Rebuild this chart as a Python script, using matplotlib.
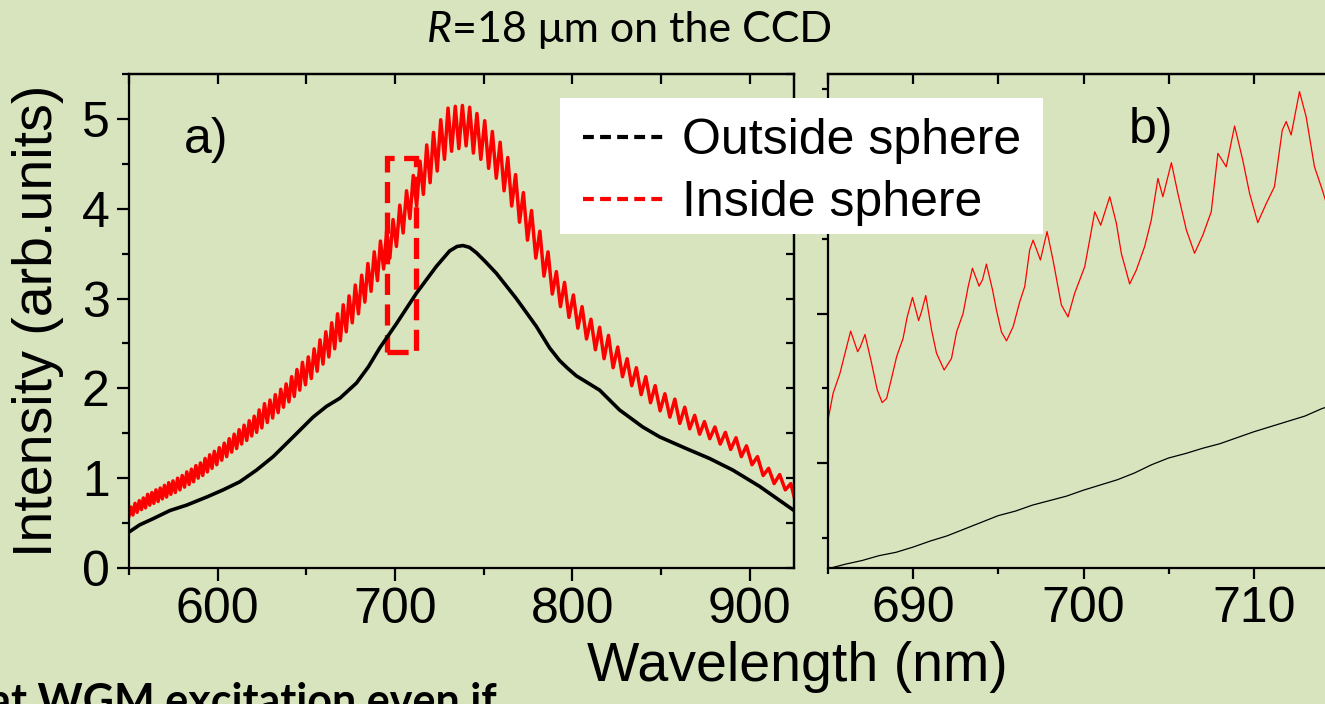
import matplotlib
matplotlib.use('Agg')
import matplotlib.pyplot as plt
from matplotlib.ticker import MultipleLocator, NullFormatter, FixedLocator
from matplotlib.patches import Rectangle
from matplotlib.lines import Line2D

plt.rcParams['font.family'] = ['Liberation Sans', 'DejaVu Sans']

BG = '#d8e4bd'
W, H = 1325, 704

# ---- panel a: full spectra (extrema of the WGM ripple)
red_a_nm = [
    550.0, 551.0, 552.2, 553.4, 554.6, 555.8, 557.0, 558.1, 559.3, 560.5, 561.7, 562.9,
    564.0, 565.2, 566.4, 567.6, 568.8, 570.0, 571.2, 572.4, 573.6, 574.8, 576.1,
    577.4, 578.7, 580.0, 581.3, 582.6, 583.9, 585.2, 586.4, 587.7, 589.0, 590.3, 591.6,
    592.9, 594.2, 595.5, 596.8, 598.1, 599.5,
    600.9, 602.3, 603.7, 605.1, 606.5, 607.9, 609.3, 610.7, 612.1, 613.5, 614.9, 616.4,
    617.8, 619.2, 620.6, 622.0, 623.4, 624.9,
    626.4, 628.0, 629.5, 631.0, 632.5, 634.1, 635.6, 637.1, 638.6, 640.2, 641.7, 643.2,
    644.7, 646.3, 647.8, 649.5,
    651.1, 652.8, 654.4, 656.1, 657.7, 659.4, 661.0, 662.7, 664.3, 666.0, 667.6, 669.2,
    670.8, 672.5, 674.1, 675.9,
    677.6, 679.4, 681.2, 683.0, 684.7, 686.5, 688.3, 690.1, 691.8, 693.6, 695.3, 697.1,
    698.9, 700.8,
    702.7, 704.6, 706.5, 708.4, 710.3, 712.2, 714.1, 716.0, 717.9, 719.8, 721.7, 723.8,
    725.8, 727.9, 729.9, 731.9, 734.0, 736.0, 738.0, 740.1, 742.1, 744.2, 746.2, 748.4,
    750.6, 752.8, 754.9, 757.1, 759.3, 761.5, 763.6, 765.8, 768.0, 770.2, 772.4, 774.7,
    777.0, 779.4, 781.7, 784.0, 786.3, 788.7, 791.0, 793.3, 795.6, 798.1,
    800.6, 803.1, 805.5, 808.0, 810.5, 813.0, 815.4, 817.9, 820.4, 823.0,
    825.6, 828.3, 830.9, 833.5, 836.1, 838.8, 841.4, 844.1, 846.7, 849.5,
    852.2, 855.0, 857.8, 860.6, 863.4, 866.2, 869.0, 871.8, 874.5, 877.5,
    880.4, 883.4, 886.3, 889.3, 892.3, 895.3, 898.2, 901.3,
    904.4, 907.6, 910.7, 913.8, 916.9, 920.1, 923.2, 925.0,
]
red_a_int = [
    0.58, 0.68, 0.59, 0.72, 0.62, 0.75, 0.65, 0.78, 0.67, 0.82, 0.70, 0.84,
    0.72, 0.87, 0.74, 0.89, 0.77, 0.92, 0.79, 0.95, 0.82, 0.97, 0.84,
    1.00, 0.87, 1.03, 0.90, 1.07, 0.93, 1.10, 0.96, 1.14, 1.00, 1.17, 1.03,
    1.22, 1.07, 1.26, 1.11, 1.30, 1.15,
    1.34, 1.20, 1.39, 1.24, 1.44, 1.29, 1.49, 1.33, 1.54, 1.38, 1.59, 1.42,
    1.64, 1.47, 1.69, 1.51, 1.76, 1.56,
    1.83, 1.62, 1.87, 1.67, 1.93, 1.73, 1.99, 1.79, 2.05, 1.85, 2.13, 1.91,
    2.21, 1.98, 2.29, 2.04,
    2.35, 2.11, 2.44, 2.19, 2.54, 2.27, 2.63, 2.35, 2.73, 2.44, 2.83, 2.53,
    2.93, 2.63, 3.03, 2.73,
    3.15, 2.83, 3.26, 2.96, 3.39, 3.08, 3.52, 3.20, 3.64, 3.33, 3.76, 3.45,
    3.88, 3.58,
    4.04, 3.73, 4.20, 3.89, 4.37, 4.03, 4.53, 4.16, 4.71, 4.29, 4.85, 4.42,
    4.99, 4.55, 5.12, 4.64, 5.14, 4.67, 5.15, 4.70, 5.13, 4.62, 5.06, 4.55,
    4.98, 4.45, 4.86, 4.34, 4.74, 4.20, 4.57, 4.03, 4.38, 3.85, 4.18, 3.65,
    3.98, 3.45, 3.75, 3.25, 3.52, 3.05, 3.30, 2.91, 3.18, 2.79,
    3.04, 2.67, 2.91, 2.55, 2.77, 2.43, 2.68, 2.33, 2.59, 2.23,
    2.46, 2.13, 2.33, 2.03, 2.23, 1.93, 2.13, 1.84, 2.03, 1.75,
    1.94, 1.68, 1.88, 1.61, 1.79, 1.55, 1.70, 1.49, 1.63, 1.44,
    1.57, 1.38, 1.51, 1.32, 1.45, 1.24, 1.36, 1.15,
    1.24, 1.03, 1.11, 0.94, 1.04, 0.87, 0.94, 0.80,
]

black_a_nm = [550.0, 556.0, 563.7, 573.1, 582.5, 593.8, 603.1, 612.5, 621.9, 631.3,
              642.6, 653.8, 661.4, 668.9, 678.3, 685.0, 691.4, 700.8, 712.1, 723.4,
              730.8, 735.0, 738.3, 742.0, 745.9, 751.0, 757.2, 768.4, 779.7, 787.2,
              792.8, 797.0, 802.2, 808.0, 815.4, 826.6, 839.7, 849.2, 864.2, 877.3,
              890.5, 905.5, 914.9, 925.0]
black_a_int = [0.40, 0.48, 0.55, 0.64, 0.70, 0.79, 0.87, 0.96, 1.09, 1.24,
               1.46, 1.68, 1.80, 1.89, 2.06, 2.24, 2.45, 2.72, 3.06, 3.36,
               3.53, 3.58, 3.59, 3.57, 3.51, 3.41, 3.28, 3.00, 2.69, 2.45,
               2.31, 2.23, 2.14, 2.07, 1.98, 1.76, 1.57, 1.46, 1.33, 1.22,
               1.09, 0.91, 0.78, 0.64]

# zoom window marked in panel a
zoom_nm = (695.4, 711.7)
zoom_int = (2.41, 4.56)

# ---- panel b: zoom 685-715 nm
red_b_nm = [685.0, 685.3, 685.7, 686.0, 686.33, 686.74, 686.9, 687.17, 687.56, 687.89,
            688.18, 688.44, 688.73, 689.03, 689.41, 689.65, 689.96, 690.32, 690.49, 690.74,
            691.08, 691.37, 691.82, 692.25, 692.55, 692.93, 693.23, 693.48, 693.87, 694.07,
            694.3, 694.66, 694.89, 695.18, 695.48, 695.87, 696.26, 696.55, 696.84, 697.04,
            697.47, 697.86, 698.21, 698.7, 699.09, 699.48, 700.07, 700.36, 700.66, 701.01,
            701.54, 701.93, 702.22, 702.71, 703.1, 703.59, 703.98, 704.37, 704.66, 705.16,
            705.54, 706.04, 706.52, 707.01, 707.5, 707.89, 708.38, 708.87, 709.35, 709.75,
            710.23, 710.73, 711.21, 711.67, 711.9, 712.19, 712.68, 713.07, 713.56, 714.02,
            714.5, 715.0]
red_b_int = [2.915, 2.987, 3.040, 3.094, 3.153, 3.098, 3.111, 3.144, 3.067, 2.996,
             2.962, 2.973, 3.027, 3.085, 3.134, 3.191, 3.243, 3.181, 3.205, 3.248,
             3.156, 3.094, 3.049, 3.080, 3.151, 3.200, 3.272, 3.321, 3.273, 3.290,
             3.332, 3.263, 3.209, 3.151, 3.127, 3.165, 3.232, 3.272, 3.370, 3.396,
             3.343, 3.419, 3.343, 3.223, 3.191, 3.254, 3.325, 3.396, 3.472, 3.436,
             3.512, 3.441, 3.361, 3.279, 3.316, 3.379, 3.450, 3.561, 3.512, 3.603,
             3.521, 3.423, 3.361, 3.410, 3.472, 3.628, 3.592, 3.701, 3.610, 3.521,
             3.443, 3.494, 3.539, 3.690, 3.713, 3.677, 3.793, 3.726, 3.592, 3.530,
             3.460, 3.500]

black_b_nm = [685, 686, 687, 688, 689, 690, 691, 692, 693, 694, 695, 696, 697, 698, 699,
              700, 701, 702, 703, 704, 705, 706, 707, 708, 709, 710, 711, 712, 713, 714, 715]
black_b_int = [2.518, 2.530, 2.540, 2.553, 2.562, 2.576, 2.592, 2.606, 2.624, 2.642,
               2.660, 2.672, 2.688, 2.700, 2.712, 2.728, 2.742, 2.756, 2.774, 2.796,
               2.814, 2.826, 2.840, 2.852, 2.868, 2.884, 2.898, 2.912, 2.926, 2.946, 2.960]

labels = ['Outside sphere', 'Inside sphere']


def rect(x0, y0, x1, y1):
    return [x0 / W, 1 - y1 / H, (x1 - x0) / W, (y1 - y0) / H]


fig = plt.figure(figsize=(W / 100, H / 100), dpi=100, facecolor=BG)
ax_a = fig.add_axes(rect(129, 74, 794, 568))
ax_b = fig.add_axes(rect(828, 74, 1339, 568))

for ax in (ax_a, ax_b):
    ax.set_facecolor('none')
    for s in ax.spines.values():
        s.set_linewidth(1.6)

# panel a
ax_a.plot(black_a_nm, black_a_int, color='black', lw=2.6)
ax_a.plot(red_a_nm, red_a_int, color='red', lw=2.5)
ax_a.add_patch(Rectangle((zoom_nm[0], zoom_int[0]), zoom_nm[1] - zoom_nm[0],
                         zoom_int[1] - zoom_int[0], fill=False, ec='red', lw=3.8,
                         ls=(0, (4, 1.8))))
ax_a.set_xlim(550, 925)
ax_a.set_ylim(0, 5.5)
ax_a.xaxis.set_major_locator(FixedLocator([600, 700, 800, 900]))
ax_a.xaxis.set_minor_locator(MultipleLocator(50))
ax_a.yaxis.set_major_locator(MultipleLocator(1))
ax_a.yaxis.set_minor_locator(MultipleLocator(0.5))
ax_a.tick_params(which='both', direction='out', width=1.6, labelsize=36, top=False, right=False)
ax_a.tick_params(which='major', length=9)
ax_a.tick_params(which='minor', length=5)
ax_a.tick_params(axis='x', pad=5)
ax_a.tick_params(axis='y', pad=5)
ax_a.text(581, 4.77, 'a)', fontsize=36, va='center', ha='left')

top_a = ax_a.secondary_xaxis('top')
top_a.xaxis.set_major_locator(MultipleLocator(50))
top_a.xaxis.set_major_formatter(NullFormatter())
top_a.tick_params(direction='in', length=7, width=1.6)
top_a.spines['top'].set_linewidth(1.6)
right_a = ax_a.secondary_yaxis('right')
right_a.yaxis.set_major_locator(MultipleLocator(0.5))
right_a.yaxis.set_major_formatter(NullFormatter())
right_a.tick_params(direction='in', length=6, width=1.6)
right_a.spines['right'].set_linewidth(1.6)

# panel b
ax_b.plot(black_b_nm, black_b_int, color='black', lw=0.9)
ax_b.plot(red_b_nm, red_b_int, color='red', lw=0.9)
ax_b.set_xlim(685, 715)
ax_b.set_ylim(2.52, 3.84)
ax_b.xaxis.set_major_locator(MultipleLocator(10))
ax_b.xaxis.set_minor_locator(MultipleLocator(5))
ax_b.yaxis.set_major_locator(FixedLocator([2.8, 3.2, 3.6]))
ax_b.yaxis.set_minor_locator(FixedLocator([2.6, 3.0, 3.4, 3.8]))
ax_b.yaxis.set_major_formatter(NullFormatter())
ax_b.tick_params(which='both', direction='out', width=1.6, labelsize=36, top=False, right=False)
ax_b.tick_params(which='major', length=8)
ax_b.tick_params(which='minor', length=4)
ax_b.tick_params(axis='x', pad=5)
top_b = ax_b.secondary_xaxis('top')
top_b.xaxis.set_major_locator(MultipleLocator(5))
top_b.xaxis.set_major_formatter(NullFormatter())
top_b.tick_params(direction='in', length=7, width=1.6)
top_b.spines['top'].set_linewidth(1.6)

fig.text(1151 / W, 1 - 130 / H, 'b)', fontsize=36, ha='center', va='center')

# axis titles shared by both panels
fig.text(797 / W, 1 - 667 / H, 'Wavelength (nm)', fontsize=40, ha='center', va='center')
fig.text(38 / W, 1 - 321 / H, 'Intensity (arb.units)', fontsize=40, ha='center',
         va='center', rotation=90)

# legend on a white box
fig.patches.append(Rectangle((560 / W, 1 - 234 / H), 483 / W, 136 / H,
                             transform=fig.transFigure, fc='white', ec='none', zorder=4))
handles = [Line2D([], [], color='black', lw=3, ls=(0, (2.6, 1.5))),
           Line2D([], [], color='red', lw=3, ls=(0, (2.6, 1.5)))]
leg = fig.legend(handles, labels, loc='upper left', bbox_to_anchor=(583 / W, 1 - 118 / H),
                 frameon=False, fontsize=36, borderpad=0, borderaxespad=0,
                 handlelength=1.6, handletextpad=0.38, labelspacing=0.32)
leg.set_zorder(5)

# slide text around the figure
fig.text(452 / W, 1 - 30 / H, '=18 \u03bcm on the CCD', fontsize=31, family='Lato',
         ha='left', va='center')
fig.text(452 / W, 1 - 30 / H, 'R', fontsize=31, family='Lato', style='italic',
         ha='right', va='center')
fig.text(497 / W, 1 - 682 / H, 'that WGM excitation even if', fontsize=31, family='Lato',
         fontweight='bold', ha='right', va='top')

fig.savefig('out.png', dpi=100, facecolor=BG)
